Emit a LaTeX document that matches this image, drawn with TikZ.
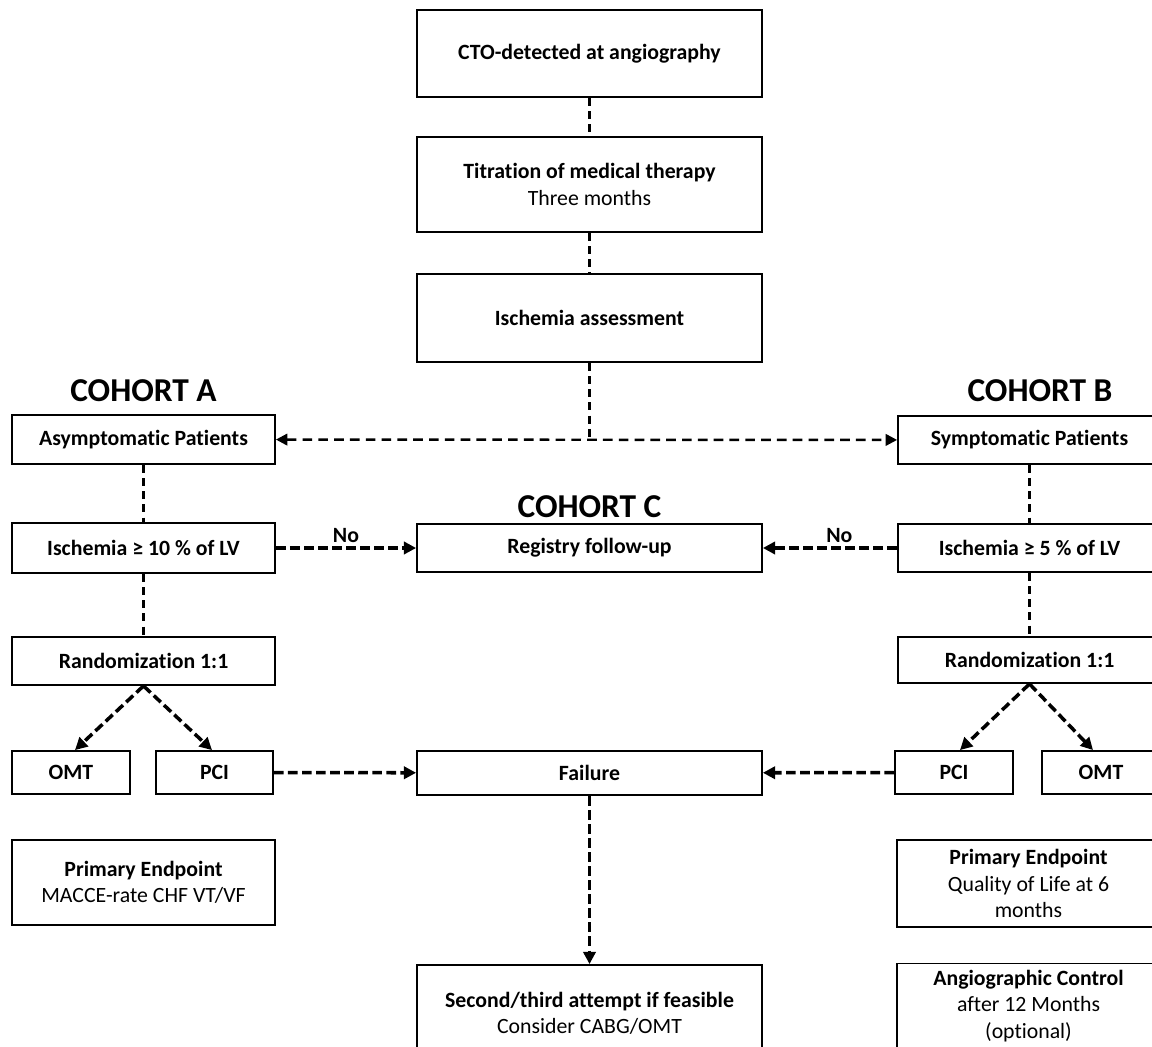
\documentclass[tikz,border=0pt]{standalone}
\usepackage{fontspec}
\setmainfont[RawFeature={-liga;-clig;-calt;-dlig}]{Carlito}
\usetikzlibrary{arrows.meta}
\tikzset{
  box/.style={draw, line width=1.05pt, align=center, inner sep=0pt, font=\fontsize{12.4}{15}\selectfont},
  thinlink/.style={line width=1.3pt, dash pattern=on 4.5pt off 3pt},
  midlink/.style={line width=1.4pt, dash pattern=on 5.5pt off 3.5pt, {Triangle[length=6.5pt,width=6.5pt]}-{Triangle[length=6.5pt,width=6.5pt]}},
  thicklink/.style={line width=2pt, dash pattern=on 5.5pt off 2.5pt, -{Triangle[length=7pt,width=7pt]}},
  cohort/.style={font=\fontsize{19}{21}\selectfont\bfseries},
  nolabel/.style={font=\fontsize{12.4}{14}\selectfont\bfseries, above, inner sep=2pt}
}
\begin{document}
\begin{tikzpicture}[x=0.02cm, y=-0.02cm]
\useasboundingbox (0,0) rectangle (1152,1047);

% centre column
\node[box, minimum width=6.9cm, minimum height=1.74cm] (cto) at (589.5,53.5) {\bfseries CTO-detected at angiography};
\node[box, minimum width=6.9cm, minimum height=1.9cm] (tit) at (589.5,184.5) {\bfseries Titration of medical therapy\\Three months};
\node[box, minimum width=6.9cm, minimum height=1.76cm] (isa) at (589.5,318) {\bfseries Ischemia assessment};
\node[box, minimum width=6.9cm, minimum height=0.96cm] (reg) at (589.5,548) {\bfseries Registry follow-up};
\node[box, minimum width=6.9cm, minimum height=0.88cm] (fail) at (589.5,773) {\bfseries Failure};
\node[box, minimum width=6.9cm, minimum height=1.92cm] (sec) at (589.5,1013) {\bfseries Second/third attempt if feasible\\Consider CABG/OMT};

% cohort titles
\node[cohort] (ca) at (143.5,391) {COHORT A};
\node[cohort] (cb) at (1040,391) {COHORT B};
\node[cohort] (cc) at (589.5,507) {COHORT C};

% left column
\node[box, minimum width=5.26cm, minimum height=0.98cm] (asy) at (143.5,439.5) {\bfseries Asymptomatic Patients};
\node[box, minimum width=5.26cm, minimum height=1.0cm] (i10) at (143.5,548) {\bfseries Ischemia ≥ 10 \% of LV};
\node[box, minimum width=5.26cm, minimum height=0.96cm] (rl) at (143.5,661) {\bfseries Randomization 1:1};
\node[box, minimum width=2.36cm, minimum height=0.86cm] (omtl) at (71,772.5) {\bfseries OMT};
\node[box, minimum width=2.34cm, minimum height=0.86cm] (pcil) at (214.5,772.5) {\bfseries PCI};
\node[box, minimum width=5.26cm, minimum height=1.7cm] (pel) at (143.5,882.5) {\bfseries Primary Endpoint\\MACCE-rate CHF VT/VF};

% right column
\node[box, minimum width=5.26cm, minimum height=0.96cm] (sym) at (1029.5,440) {\bfseries Symptomatic Patients};
\node[box, minimum width=5.26cm, minimum height=0.96cm] (i5) at (1029.5,548) {\bfseries Ischemia ≥ 5 \% of LV};
\node[box, minimum width=5.26cm, minimum height=0.92cm] (rr) at (1029.5,660) {\bfseries Randomization 1:1};
\node[box, minimum width=2.36cm, minimum height=0.86cm] (pcir) at (954,772.5) {\bfseries PCI};
\node[box, minimum width=2.36cm, minimum height=0.86cm] (omtr) at (1101,772.5) {\bfseries OMT};
\node[box, minimum width=5.26cm, minimum height=1.74cm] (per) at (1028.5,883.5) {\bfseries Primary Endpoint\\Quality of Life at 6\\months};
\node[box, minimum width=5.26cm, minimum height=1.7cm] (ang) at (1028.5,1006) {\bfseries Angiographic Control\\after 12 Months\\(optional)};

% connectors
\coordinate (j) at (589.5,439.5);
\draw[thinlink] (cto) -- (tit);
\draw[thinlink] (tit) -- (isa);
\draw[thinlink] (isa) -- (j);
\draw[midlink] (asy) -- (sym);
\draw[thinlink] (asy) -- (i10);
\draw[thinlink] (i10) -- (rl);
\draw[thinlink] (sym) -- (i5);
\draw[thinlink] (i5) -- (rr);
\draw[thicklink] (i10) -- node[nolabel] {No} (reg);
\draw[thicklink] (i5) -- node[nolabel, pos=0.43] {No} (reg);
\draw[thicklink] (rl.south) -- ([xshift=0.08cm]omtl.north);
\draw[thicklink] (rl.south) -- ([xshift=-0.05cm]pcil.north);
\draw[thicklink] (rr.south) -- ([xshift=0.12cm]pcir.north);
\draw[thicklink] (rr.south) -- ([xshift=-0.16cm]omtr.north);
\draw[thicklink] (pcil) -- (fail);
\draw[thicklink] (pcir) -- (fail);
\draw[thicklink] (fail) -- (sec);
\end{tikzpicture}
\end{document}
